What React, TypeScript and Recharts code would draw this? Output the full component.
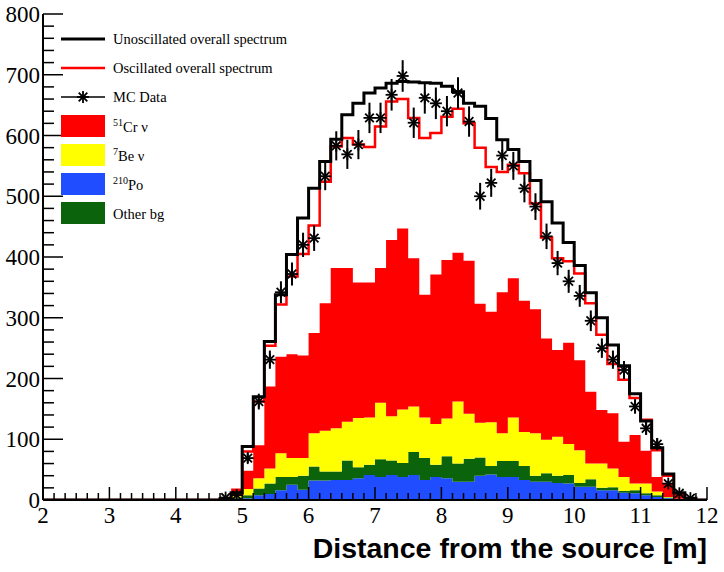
import React from 'react';
import { ComposedChart, Area, Line, Scatter, ErrorBar, XAxis, YAxis } from 'recharts';

// histogram: 60 bins of 1/6 m between 2 and 12 m, entries only in bins 16..58
const X_MIN = 2;
const X_MAX = 12;
const N_BINS = 60;
const BIN_W = (X_MAX - X_MIN) / N_BINS;
const FIRST_BIN = 16;

// stacked components (per bin, bottom to top)
const po210 = [1, 2, 3, 8, 10, 16, 25, 17, 32, 32, 33, 33, 36, 41, 38, 41, 38, 41, 33, 38, 36, 30, 30, 40, 42, 38, 38, 33, 30, 30, 28, 27, 22, 22, 16, 16, 12, 11, 8, 5, 3, 1, 0];
const otherBg = [0, 2, 5, 11, 17, 22, 13, 23, 23, 15, 14, 32, 18, 17, 29, 24, 23, 38, 36, 20, 36, 30, 38, 30, 14, 26, 26, 23, 10, 14, 12, 14, 6, 12, 4, 5, 3, 5, 3, 3, 1, 1, 0];
const be7 = [0, 3, 10, 17, 25, 39, 31, 29, 55, 67, 71, 64, 81, 78, 93, 73, 88, 75, 67, 67, 62, 102, 74, 57, 72, 46, 72, 56, 70, 55, 64, 51, 54, 26, 40, 31, 23, 11, 16, 6, 1, 0, 0];
const cr51 = [1, 12, 30, 54, 135, 159, 171, 169, 165, 210, 264, 253, 223, 222, 222, 290, 298, 244, 202, 246, 261, 245, 252, 196, 182, 232, 229, 216, 204, 167, 143, 167, 148, 118, 88, 91, 58, 80, 54, 24, 22, 6, 1];

// overall spectra
const unoscillated = [2, 12, 88, 170, 261, 338, 404, 464, 513, 557, 594, 634, 653, 670, 678, 686, 689, 688, 687, 686, 681, 672, 653, 648, 628, 593, 577, 557, 526, 491, 456, 424, 386, 341, 300, 255, 221, 175, 130, 86, 43, 12, 3];
const oscillated = [2, 10, 80, 162, 254, 322, 368, 405, 452, 524, 582, 596, 585, 581, 615, 656, 660, 629, 596, 604, 631, 644, 620, 580, 548, 540, 552, 538, 488, 432, 398, 393, 373, 324, 272, 224, 198, 168, 132, 82, 40, 9, 2];

// MC data points and their errors
const mcData = [4, 8, 69, 162, 231, 342, 372, 420, 431, 533, 583, 569, 585, 629, 629, 667, 698, 621, 662, 653, 640, 670, 623, 500, 522, 567, 550, 513, 483, 434, 390, 360, 336, 295, 250, 231, 214, 154, 118, 92, 27, 11, 3];
const mcErr = [2, 3, 8, 13, 15, 18, 19, 20, 21, 23, 24, 24, 24, 25, 25, 26, 26, 25, 26, 26, 25, 26, 25, 22, 23, 24, 23, 23, 22, 21, 20, 19, 18, 17, 16, 15, 15, 12, 11, 10, 5, 3, 2];

const yTickLabels = [0, 100, 200, 300, 400, 500, 600, 700, 800];
const xTickLabels = [2, 3, 4, 5, 6, 7, 8, 9, 10, 11, 12];

const legendLines = [
  { label: 'Unoscillated overall spectrum', color: '#000000', width: 3 },
  { label: 'Oscillated overall spectrum', color: '#ff0000', width: 2.5 },
];
const legendBoxes = [
  { sup: '51', label: 'Cr \u03bd', color: '#ff0000' },
  { sup: '7', label: 'Be \u03bd', color: '#ffff00' },
  { sup: '210', label: 'Po', color: '#1f4dff' },
  { sup: '', label: 'Other bg', color: '#0b640b' },
];

const PLOT = { left: 43, right: 707, top: 14, bottom: 500 };
const SERIF = '"Liberation Serif", "DejaVu Serif", serif';
const serifStyle = { fontFamily: SERIF };

const val = (arr: number[], k: number) => {
  const i = k - FIRST_BIN;
  return i >= 0 && i < arr.length ? arr[i] : 0;
};

// one row per bin edge (stepAfter), last edge closes the histogram
const rows = Array.from({ length: N_BINS + 1 }, (_, k) => ({
  x: X_MIN + k * BIN_W,
  po: val(po210, k),
  other: val(otherBg, k),
  be: val(be7, k),
  cr: val(cr51, k),
  unosc: val(unoscillated, k),
  osc: val(oscillated, k),
}));

const mcRows = mcData.map((v, i) => ({
  x: X_MIN + (FIRST_BIN + i + 0.5) * BIN_W,
  mc: v,
  err: mcErr[i],
}));

const xTicks = Array.from({ length: N_BINS + 1 }, (_, k) => X_MIN + k * BIN_W);
const yTicks = Array.from({ length: 41 }, (_, i) => i * 20);

const isMajorX = (v: number) => xTickLabels.some(t => Math.abs(t - v) < 1e-6);

function BottomTick({ x, payload }: any) {
  const major = isMajorX(payload.value);
  return (
    <g>
      <line x1={x} x2={x} y1={PLOT.bottom} y2={PLOT.bottom - (major ? 13 : 7)} stroke="#000" strokeWidth={1.5} />
      {major && (
        <text x={x} y={PLOT.bottom + 23} textAnchor="middle" style={serifStyle} fontSize={23} fill="#000">
          {Math.round(payload.value)}
        </text>
      )}
    </g>
  );
}

function TopTick({ x, payload }: any) {
  const major = isMajorX(payload.value);
  return <line x1={x} x2={x} y1={PLOT.top} y2={PLOT.top + (major ? 13 : 7)} stroke="#000" strokeWidth={1.5} />;
}

function LeftTick({ y, payload }: any) {
  const major = yTickLabels.includes(payload.value);
  return (
    <g>
      <line x1={PLOT.left} x2={PLOT.left + (major ? 20 : 11)} y1={y} y2={y} stroke="#000" strokeWidth={1.5} />
      {major && (
        <text x={PLOT.left - 3} y={y} dy="0.35em" textAnchor="end" style={serifStyle} fontSize={23} fill="#000">
          {payload.value}
        </text>
      )}
    </g>
  );
}

function RightTick({ y, payload }: any) {
  const major = yTickLabels.includes(payload.value);
  return <line x1={PLOT.right} x2={PLOT.right - (major ? 20 : 11)} y1={y} y2={y} stroke="#000" strokeWidth={1.5} />;
}

function AxisTitle({ viewBox }: any) {
  const right = viewBox ? viewBox.x + viewBox.width : PLOT.right;
  return (
    <text x={right} y={PLOT.bottom + 58} textAnchor="end" style={{ fontFamily: '"Liberation Sans", Arial, sans-serif' }} fontWeight="bold" fontSize={28.5} fill="#000">
      Distance from the source [m]
    </text>
  );
}

function Star({ cx, cy }: any) {
  const r = 6;
  const d = r * 0.72;
  return (
    <g stroke="#000" strokeWidth={1.8}>
      <line x1={cx - r} x2={cx + r} y1={cy} y2={cy} />
      <line x1={cx} x2={cx} y1={cy - r} y2={cy + r} />
      <line x1={cx - d} x2={cx + d} y1={cy - d} y2={cy + d} />
      <line x1={cx - d} x2={cx + d} y1={cy + d} y2={cy - d} />
    </g>
  );
}

function LegendBox() {
  return (
    <svg width={724} height={572} style={{ position: 'absolute', left: 0, top: 0, pointerEvents: 'none' }}>
      <g style={serifStyle} fontSize={14.5} fill="#000">
        {legendLines.map((item, i) => (
          <g key={item.label}>
            <line x1={61} x2={105} y1={39 + i * 29} y2={39 + i * 29} stroke={item.color} strokeWidth={item.width} />
            <text x={113} y={44 + i * 29}>{item.label}</text>
          </g>
        ))}
        <line x1={61} x2={105} y1={97} y2={97} stroke="#000" strokeWidth={1.5} />
        <Star cx={83} cy={97} />
        <text x={113} y={102}>MC Data</text>
        {legendBoxes.map((item, i) => (
          <g key={item.label}>
            <rect x={61} y={115 + i * 29} width={44} height={22} fill={item.color} />
            <text x={113} y={132 + i * 29}>
              {item.sup && <tspan fontSize={10} dy={-6}>{item.sup}</tspan>}
              <tspan dy={item.sup ? 6 : 0}>{item.label}</tspan>
            </text>
          </g>
        ))}
      </g>
    </svg>
  );
}

export default function App() {
  return (
    <div style={{ position: 'absolute', left: 0, top: 0, width: 724, height: 572, background: '#fff' }}>
      <ComposedChart width={724} height={572} data={rows} margin={{ top: PLOT.top, right: 724 - PLOT.right, bottom: 0, left: 0 }}>
        <XAxis
          dataKey="x"
          type="number"
          domain={[X_MIN, X_MAX]}
          ticks={xTicks}
          interval={0}
          allowDataOverflow
          height={572 - PLOT.bottom}
          tickLine={false}
          tick={<BottomTick />}
          axisLine={{ stroke: '#000', strokeWidth: 2 }}
          label={<AxisTitle />}
        />
        <XAxis
          xAxisId="top"
          orientation="top"
          dataKey="x"
          type="number"
          domain={[X_MIN, X_MAX]}
          ticks={xTicks}
          interval={0}
          allowDataOverflow
          height={0}
          tickLine={false}
          tick={<TopTick />}
          axisLine={{ stroke: '#000', strokeWidth: 2 }}
        />
        <YAxis
          type="number"
          domain={[0, 800]}
          ticks={yTicks}
          interval={0}
          allowDataOverflow
          width={PLOT.left}
          tickLine={false}
          tick={<LeftTick />}
          axisLine={{ stroke: '#000', strokeWidth: 2 }}
        />
        <YAxis
          yAxisId="right"
          orientation="right"
          type="number"
          domain={[0, 800]}
          ticks={yTicks}
          interval={0}
          allowDataOverflow
          width={0}
          tickLine={false}
          tick={<RightTick />}
          axisLine={{ stroke: '#000', strokeWidth: 2 }}
        />

        <Area type="stepAfter" dataKey="po" stackId="s" fill="#1f4dff" fillOpacity={1} stroke="none" isAnimationActive={false} />
        <Area type="stepAfter" dataKey="other" stackId="s" fill="#0b640b" fillOpacity={1} stroke="none" isAnimationActive={false} />
        <Area type="stepAfter" dataKey="be" stackId="s" fill="#ffff00" fillOpacity={1} stroke="none" isAnimationActive={false} />
        <Area type="stepAfter" dataKey="cr" stackId="s" fill="#ff0000" fillOpacity={1} stroke="none" isAnimationActive={false} />

        <Line type="stepAfter" dataKey="osc" stroke="#ff0000" strokeWidth={2.5} dot={false} isAnimationActive={false} />
        <Line type="stepAfter" dataKey="unosc" stroke="#000" strokeWidth={3} dot={false} isAnimationActive={false} />

        <Scatter data={mcRows} dataKey="mc" shape={<Star />} isAnimationActive={false}>
          <ErrorBar dataKey="err" direction="y" width={0} stroke="#000" strokeWidth={2} />
        </Scatter>
      </ComposedChart>
      <LegendBox />
    </div>
  );
}
